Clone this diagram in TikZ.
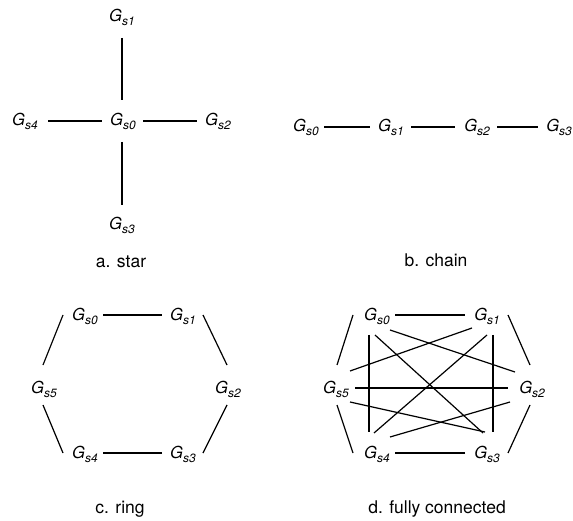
\documentclass[tikz,border=0pt]{standalone}
\usepackage{fontspec}
\setmainfont{TeX Gyre Heros}
\usetikzlibrary{calc}
\newcommand\gsub[1]{G\raisebox{-4pt}{\fontsize{12}{12}\selectfont s#1}}
\tikzset{
  lab/.style={inner sep=0pt, anchor=base, font=\fontsize{16.5}{18}\selectfont\itshape},
  captext/.style={inner sep=0pt, anchor=base, font=\fontsize{17.5}{20}\selectfont},
  conn/.style={line width=1.2pt, black}
}
\begin{document}
\begin{tikzpicture}[x=1pt,y=-1pt]
\useasboundingbox (0,0) rectangle (573,521);
% a. star
\node[lab] (s0) at (123,126) {\gsub{0}};
\node[lab] (s1) at (122,22) {\gsub{1}};
\node[lab] (s2) at (218,126) {\gsub{2}};
\node[lab] (s3) at (122,230) {\gsub{3}};
\node[lab] (s4) at (25,126) {\gsub{4}};
\draw[conn] ($(s1.base)+(0,16)$) -- ($(s0.base)+(-1,-26)$);
\draw[conn] ($(s0.base)+(-1,16)$) -- ($(s3.base)+(0,-25)$);
\draw[conn] ($(s4.base)+(23,-5)$) -- ($(s0.base)+(-21,-5)$);
\draw[conn] ($(s0.base)+(20,-5)$) -- ($(s2.base)+(-21,-5)$);
\node[captext] (ca) at (121,268) {a. star};
% b. chain
\node[lab] (c0) at (306,132) {\gsub{0}};
\node[lab] (c1) at (391,132) {\gsub{1}};
\node[lab] (c2) at (477,132) {\gsub{2}};
\node[lab] (c3) at (559,132) {\gsub{3}};
\draw[conn] ($(c0.base)+(18,-5)$) -- ($(c1.base)+(-21,-5)$);
\draw[conn] ($(c1.base)+(20,-5)$) -- ($(c2.base)+(-22,-5)$);
\draw[conn] ($(c2.base)+(20,-5)$) -- ($(c3.base)+(-21,-5)$);
\node[captext] (cb) at (436,267) {b. chain};
% c. ring
\node[lab] (r0) at (85,320) {\gsub{0}};
\node[lab] (r1) at (183,320) {\gsub{1}};
\node[lab] (r2) at (228,393) {\gsub{2}};
\node[lab] (r3) at (183,458) {\gsub{3}};
\node[lab] (r4) at (85,458) {\gsub{4}};
\node[lab] (r5) at (44,393) {\gsub{5}};
\draw[conn] ($(r0.base)+(18,-5)$) -- ($(r1.base)+(-21,-5)$);
\draw[conn] ($(r1.base)+(20,-5)$) -- ($(r2.base)+(-1,-28)$);
\draw[conn] ($(r2.base)+(-1,12)$) -- ($(r3.base)+(20,-5)$);
\draw[conn] ($(r3.base)+(-21,-5)$) -- ($(r4.base)+(18,-5)$);
\draw[conn] ($(r4.base)+(-22,-5)$) -- ($(r5.base)+(-1,12)$);
\draw[conn] ($(r5.base)+(-1,-28)$) -- ($(r0.base)+(-22,-5)$);
\node[captext] (cc) at (120,513) {c. ring};
% d. fully connected
\node[lab] (f0) at (377,320) {\gsub{0}};
\node[lab] (f1) at (487,320) {\gsub{1}};
\node[lab] (f2) at (532,393) {\gsub{2}};
\node[lab] (f3) at (487,458) {\gsub{3}};
\node[lab] (f4) at (377,458) {\gsub{4}};
\node[lab] (f5) at (336,393) {\gsub{5}};
\draw[conn] ($(f0.base)+(18,-5)$) -- ($(f1.base)+(-22,-5)$);
\draw[conn] ($(f1.base)+(21,-5)$) -- ($(f2.base)+(-2,-28)$);
\draw[conn] ($(f2.base)+(-2,12)$) -- ($(f3.base)+(21,-5)$);
\draw[conn] ($(f3.base)+(-22,-5)$) -- ($(f4.base)+(18,-5)$);
\draw[conn] ($(f4.base)+(-24,-5)$) -- ($(f5.base)+(1,12)$);
\draw[conn] ($(f5.base)+(1,-28)$) -- ($(f0.base)+(-24,-5)$);
\draw[conn] ($(f0.base)+(-8,15)$) -- ($(f4.base)+(-8,-26)$);
\draw[conn] ($(f1.base)+(6,15)$) -- ($(f3.base)+(6,-26)$);
\draw[conn] ($(f5.base)+(19,-5)$) -- ($(f2.base)+(-24,-5)$);
\draw[conn] ($(f0.base)+(-2,15)$) -- ($(f3.base)+(-4,-25)$);
\draw[conn] ($(f0.base)+(13,10)$) -- ($(f2.base)+(-17,-21)$);
\draw[conn] ($(f1.base)+(-15,8)$) -- ($(f5.base)+(14,-22)$);
\draw[conn] ($(f1.base)+(0,15)$) -- ($(f4.base)+(-3,-25)$);
\draw[conn] ($(f5.base)+(14,9)$) -- ($(f3.base)+(-2,-26)$);
\draw[conn] ($(f4.base)+(13,-21)$) -- ($(f2.base)+(-22,9)$);
\node[captext] (cd) at (437,513) {d. fully connected};
\end{tikzpicture}
\end{document}
